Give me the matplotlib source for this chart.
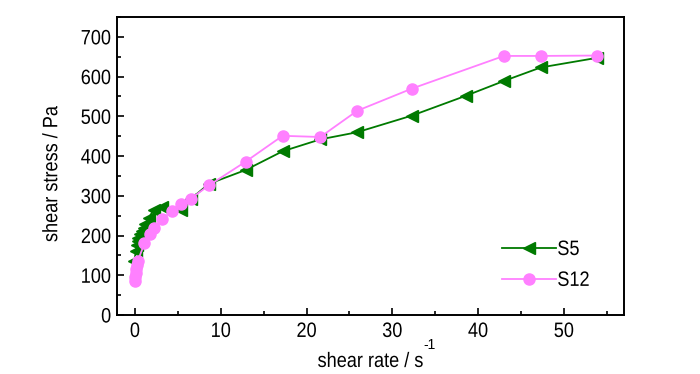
import matplotlib
matplotlib.use("Agg")
import matplotlib.pyplot as plt
from matplotlib.ticker import MultipleLocator
from matplotlib.patheffects import AbstractPathEffect
from matplotlib.transforms import Affine2D

plt.rcParams['font.family'] = ['Liberation Sans', 'DejaVu Sans']

s5_rate = [-0.1, 0.1, 0.2, 0.3, 0.4, 0.6, 0.8, 1.0, 1.2, 1.6, 2.2, 3.2, 5.4, 6.5, 8.6,
           12.9, 17.2, 21.6, 25.9, 32.3, 38.6, 43.0, 47.3, 53.8]
s5_stress = [135, 160, 175, 185, 195, 205, 212, 220, 228, 245, 265, 272, 265, 292, 330,
             365, 412, 442, 460, 502, 552, 589, 623, 647]

s12_rate = [0.0, 0.05, 0.1, 0.15, 0.2, 0.3, 1.1, 1.7, 2.2, 3.2, 4.3, 5.4, 6.5, 8.6,
            12.9, 17.2, 21.6, 25.9, 32.3, 43.0, 47.3, 53.8]
s12_stress = [85, 95, 105, 115, 125, 135, 180, 205, 218, 242, 262, 280, 293, 326,
              386, 451, 448, 514, 570, 652, 652, 653]

x_label = 'shear rate / s'
x_label_sup = '-1'
y_label = 'shear stress / Pa'


class Squeeze(AbstractPathEffect):
    """Horizontally condense glyphs (the reference uses a narrow, tall font)."""
    def __init__(self, sx=0.87, anchor='center'):
        super().__init__()
        self.sx = sx
        self.anchor = anchor

    def draw_path(self, renderer, gc, tpath, affine, rgbFace=None):
        cx = 0.0
        if len(tpath.vertices):
            ext = tpath.get_extents()
            cx = {'left': ext.x0, 'right': ext.x1, 'center': 0.5 * (ext.x0 + ext.x1)}[self.anchor]
        t = Affine2D().translate(-cx, 0).scale(self.sx, 1).translate(cx, 0)
        renderer.draw_path(gc, tpath, t + affine, rgbFace)


FS = 15
SX = 0.87

fig = plt.figure(figsize=(7, 3.74), dpi=100)
ax = fig.add_axes([117 / 700, 1 - 315 / 374, 507 / 700, 298 / 374])

ax.plot(s5_rate, s5_stress, color='#007a00', marker='<', markersize=9, lw=1.3, label='S5')
ax.plot(s12_rate, s12_stress, color='#ff80ff', marker='o', markersize=8, lw=1.3, label='S12')

ax.set_xlim(-2.1, 57)
ax.set_ylim(0, 750)
ax.xaxis.set_major_locator(MultipleLocator(10))
ax.xaxis.set_minor_locator(MultipleLocator(5))
ax.yaxis.set_major_locator(MultipleLocator(100))
ax.yaxis.set_minor_locator(MultipleLocator(50))
ax.tick_params(which='both', direction='in', top=False, right=False, labelsize=FS, width=1.2)
ax.tick_params(which='major', length=5)
ax.tick_params(which='minor', length=3)
ax.tick_params(axis='x', which='major', pad=5)
ax.tick_params(axis='y', which='major', pad=4)
for sp in ax.spines.values():
    sp.set_linewidth(1.4)

ax.set_xlabel(x_label, fontsize=FS)
ax.set_ylabel(y_label, fontsize=FS)
ax.xaxis.set_label_coords(0.5, -0.124)
ax.yaxis.set_label_coords(-0.11, 0.473)
ax.xaxis.label.set_path_effects([Squeeze(SX, 'center')])
ax.yaxis.label.set_path_effects([Squeeze(SX, 'center')])
fig.text(423 / 700, 1 - 338 / 374, x_label_sup, fontsize=10, ha='left', va='top')

leg = ax.legend(loc='upper left', bbox_to_anchor=(502 / 700, 1 - 240 / 374),
                bbox_transform=fig.transFigure, frameon=False, fontsize=FS,
                handlelength=2.6, handletextpad=0.05, labelspacing=0.57,
                borderpad=0, borderaxespad=0)
for t in leg.get_texts():
    t.set_path_effects([Squeeze(SX, 'left')])

fig.canvas.draw()
for tk in ax.xaxis.get_major_ticks():
    tk.label1.set_path_effects([Squeeze(SX, 'center')])
for tk in ax.yaxis.get_major_ticks():
    tk.label1.set_path_effects([Squeeze(SX, 'right')])

fig.savefig('out.png', dpi=100)
